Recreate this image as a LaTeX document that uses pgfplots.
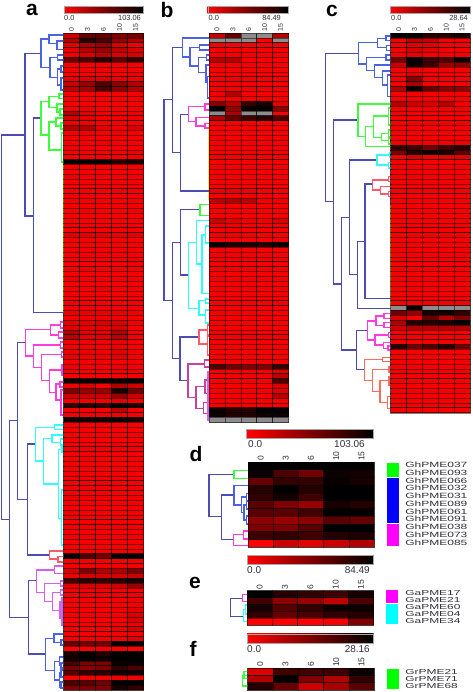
\documentclass[border=0pt]{standalone}
\usepackage{fontspec}
\setmainfont{Liberation Sans}
\usepackage{pgfplots}
\usepackage{pgfplotstable}
\pgfplotsset{compat=1.18}
\definecolor{dnavy}{HTML}{4C4CB4}
\definecolor{dblue}{HTML}{4A62E6}
\definecolor{dgreen}{HTML}{3CFF3C}
\definecolor{dmag}{HTML}{FF3CDC}
\definecolor{dcyan}{HTML}{30FFFF}
\definecolor{dred}{HTML}{FF5A6A}
\definecolor{dvio}{HTML}{DC5CF0}
\definecolor{dplum}{HTML}{C840A0}
\definecolor{dorg}{HTML}{FF6A5A}
\definecolor{txt}{HTML}{303038}
\definecolor{sgreen}{HTML}{00FF00}
\definecolor{sblue}{HTML}{0000FF}
\definecolor{smag}{HTML}{FF00FF}
\definecolor{scyan}{HTML}{00FFFF}
\definecolor{pred}{HTML}{FF0000}
\definecolor{dyel}{HTML}{FFF000}
\newcommand\defcell[3]{\pgfdeclareplotmark{#1}{\pgfpathrectangle{\pgfpoint{-#2pt}{-#3pt}}{\pgfpoint{2*#2pt}{2*#3pt}}\pgfusepathqfillstroke}}
\defcell{cellA}{8}{2.433}
\defcell{cellB}{7.95}{2.433}
\defcell{cellC}{7.93}{2.433}
\defcell{cellD}{12.6}{3.875}
\defcell{cellE}{12.67}{3.45}
\defcell{cellF}{12.67}{3.6}
\newcommand\heat[6]{\pgfplotsinvokeforeach{0,...,4}{%
  \addplot[scatter,only marks,mark=#2,point meta=explicit,
    scatter/use mapped color={draw=black,fill=mapped color},
    mark options={line width=0.6pt,draw opacity=0.5}]
    table[x expr={#3+#4*(##1+0.5)},y expr={#5+#6*(\coordindex+0.5)},meta=c##1]{#1};}}
\def\U#1#2#3#4#5{(#4,#2)(#1,#2)(#1,#3)(#5,#3)(0,nan)}
\newcommand\tree[2]{\edef\tmp{\noexpand\addplot[#1,line width=1.25pt,line join=miter,forget plot,unbounded coords=jump] coordinates {#2};}\tmp}
\newcommand\cbar[4]{% x0 x1 y0 y1
  \path[left color=pred,right color=black,draw=gray!70,line width=0.4pt] (axis cs:#1,#3) rectangle (axis cs:#2,#4);}
\newcommand\collab[4]{% x0 cw ybase size
  \foreach \i/\t in {0/0,1/3,2/6,3/10,4/15}{\pgfmathsetmacro\xx{#1+#2*(\i+0.5)}
    \edef\tmp{\noexpand\node[rotate=90,anchor=west,inner sep=0pt,text=txt,font=\noexpand\fontsize{#4}{#4}\noexpand\selectfont] at (axis cs:\xx,#3) {\t};}\tmp}}
\newcommand\vlines[4]{% x0 cw y0 y1
  \foreach \i in {1,2,3,4}{\pgfmathsetmacro\xx{#1+#2*\i}
    \edef\tmp{\noexpand\draw[black,line width=0.8pt] (axis cs:\xx,#3) -- (axis cs:\xx,#4);}\tmp}}
\def\smallf{\fontsize{7.4}{8}\selectfont}
\def\bigf{\fontsize{10}{11}\selectfont}
\def\letf{\bfseries\fontsize{21}{22}\selectfont}
\pgfplotstableread{
c0 c1 c2 c3 c4
20 60 60 50 55
30 85 70 40 30
10 30 40 15 5
10 30 40 25 15
5 15 25 15 15
60 70 85 65 80
3 3 3 3 3
3 3 5 3 3
3 3 3 3 5
8 10 10 8 5
20 40 70 45 30
25 35 70 45 30
3 3 3 3 3
3 3 3 3 3
3 3 3 3 3
3 5 3 3 3
30 12 5 5 5
15 10 5 5 5
5 5 3 3 3
30 30 10 5 15
3 5 3 5 3
3 3 3 3 3
3 3 5 3 3
5 3 3 3 3
3 3 3 3 5
3 3 3 3 3
100 100 100 85 90
3 3 3 3 3
3 3 3 3 3
5 3 3 3 3
3 3 3 3 3
3 3 5 3 3
3 3 3 5 3
5 5 3 3 3
3 3 3 3 3
3 3 3 3 3
3 5 3 3 5
3 3 3 3 3
3 3 3 3 3
5 3 3 3 3
3 3 3 3 3
10 10 10 8 10
3 3 3 3 3
3 3 3 3 3
5 5 5 5 3
3 3 3 3 3
3 3 3 3 3
3 3 3 3 5
3 5 3 3 3
3 3 3 3 3
5 3 3 3 3
3 3 3 3 3
3 3 5 3 3
3 3 3 3 3
3 3 3 3 3
5 3 3 3 3
3 3 3 3 3
8 8 8 8 5
3 5 5 5 3
10 10 15 15 5
10 10 10 15 3
30 10 10 30 3
25 8 10 25 3
5 5 5 8 3
3 3 3 5 3
8 8 5 12 5
8 5 5 10 3
3 3 3 3 3
5 3 3 5 3
3 3 3 5 3
3 3 3 3 3
100 100 100 100 100
5 15 3 30 20
50 40 40 90 55
20 20 20 40 20
5 5 5 10 5
80 85 80 100 85
3 3 3 25 3
3 3 3 5 3
95 95 95 100 90
3 3 3 3 3
3 3 3 3 3
3 3 3 3 3
5 3 3 3 3
3 3 3 5 3
3 3 3 3 3
3 3 3 3 3
3 5 3 3 3
3 3 3 3 3
3 3 3 3 3
5 3 3 3 3
3 3 3 3 3
3 3 5 3 3
3 3 3 3 3
3 3 3 3 3
8 5 5 3 5
3 3 3 3 3
3 3 3 3 3
5 3 3 3 3
3 3 3 3 3
3 3 3 3 3
3 3 3 5 3
3 3 3 3 3
3 3 3 3 3
3 3 3 3 3
3 3 3 3 3
3 3 3 3 3
100 70 55 100 100
3 3 3 3 3
3 3 5 5 3
15 50 30 30 50
5 15 15 15 20
75 85 80 85 90
10 15 15 20 40
3 3 3 3 3
3 5 5 5 5
3 3 3 3 5
3 3 3 3 3
5 3 3 5 10
3 3 3 3 15
3 3 3 3 15
3 3 3 3 5
3 3 3 5 15
3 3 3 3 5
3 3 3 3 10
60 55 55 100 100
0 3 3 3 0
90 100 85 100 100
92 100 95 100 98
70 50 50 95 95
50 45 50 80 70
65 80 85 95 95
3 5 5 5 3
70 65 55 100 100
50 50 50 90 80
}\tA
\pgfplotstableread{
c0 c1 c2 c3 c4
25 60 105 105 30
105 105 105 0 105
3 3 3 3 3
3 3 3 3 3
3 3 3 3 3
30 30 3 3 3
3 3 3 3 3
3 3 3 3 3
3 3 3 3 3
3 5 3 3 3
3 3 3 3 3
3 3 3 3 3
5 30 3 3 3
3 3 3 3 3
50 30 80 90 10
100 40 95 100 45
105 30 105 105 0
30 60 75 85 70
3 3 3 3 3
3 3 3 3 3
3 3 3 3 3
3 3 3 3 3
3 3 3 3 3
3 3 3 3 3
3 3 3 3 3
5 3 3 3 3
3 3 3 3 3
3 3 3 3 3
3 3 3 3 3
3 3 3 3 3
3 3 3 3 3
3 3 3 3 3
8 8 5 3 3
3 3 3 3 3
25 30 25 5 5
3 3 3 3 3
3 3 3 3 3
3 3 3 3 3
20 10 5 5 15
5 5 3 3 5
3 5 3 3 3
5 5 5 3 3
3 3 3 3 5
100 90 90 85 100
3 3 3 3 3
3 3 3 3 3
3 3 3 3 3
3 3 3 3 3
3 3 3 3 3
3 3 3 3 3
3 3 3 3 3
3 3 3 3 3
3 3 3 3 3
3 3 3 3 3
3 3 3 3 3
3 3 3 3 5
3 3 3 3 3
3 3 3 3 3
3 3 3 3 3
3 3 3 3 3
3 3 3 3 3
3 3 3 3 3
3 3 3 3 3
3 3 3 3 3
3 3 3 3 3
3 3 3 3 3
3 3 3 3 3
3 3 3 3 3
70 55 50 50 80
3 3 3 3 10
3 3 3 3 25
3 3 3 3 70
3 3 3 3 15
3 3 3 3 10
3 3 3 3 30
3 3 3 3 3
3 3 3 3 3
95 85 85 100 100
95 85 85 95 95
105 105 105 105 105
}\tB
\pgfplotstableread{
c0 c1 c2 c3 c4
100 100 85 85 90
3 25 20 3 3
3 10 10 3 3
3 15 10 3 3
3 8 3 3 3
55 100 75 70 95
20 95 75 40 45
3 5 3 3 3
3 10 3 3 3
3 45 3 3 3
3 35 3 3 3
30 100 60 45 40
3 3 3 3 3
3 3 3 3 3
30 20 15 30 5
3 3 3 3 3
3 3 3 3 3
3 3 3 3 3
3 3 3 3 3
3 3 3 3 3
3 3 3 3 3
3 3 3 3 3
5 5 3 3 5
80 75 55 75 85
50 85 95 90 60
5 15 5 10 10
3 3 3 3 3
3 3 3 3 3
3 3 3 3 3
3 3 3 3 3
3 3 3 3 3
3 3 3 3 3
3 3 3 3 3
3 3 3 3 3
3 3 3 3 3
3 3 3 3 3
3 3 3 3 3
3 3 3 3 3
3 3 3 3 3
3 3 3 3 3
3 3 3 3 3
3 3 3 3 3
3 3 3 3 3
3 3 3 3 3
3 3 3 3 3
3 3 3 3 3
3 3 3 3 3
3 3 3 3 3
3 3 3 3 3
3 3 3 3 3
3 3 3 3 3
3 3 3 3 3
3 3 3 3 3
3 3 3 3 3
3 3 3 3 3
3 3 3 3 3
105 100 105 105 105
55 40 90 95 80
15 3 60 30 50
30 85 85 90 100
20 30 30 30 30
3 3 3 3 3
3 3 3 3 3
3 3 3 3 3
85 55 70 85 55
3 3 3 3 3
3 3 3 3 3
3 3 3 3 3
3 3 3 3 3
3 3 3 3 3
3 3 3 3 3
3 3 3 3 3
3 3 3 3 3
3 3 3 3 3
3 3 3 3 3
3 3 3 3 3
3 3 3 3 3
3 3 3 3 3
}\tC
\pgfplotstableread{
c0 c1 c2 c3 c4
100 100 100 100 100
95 70 55 95 92
60 80 80 97 90
85 100 85 100 100
80 92 75 100 100
65 50 40 90 85
65 65 75 98 98
45 40 45 65 60
50 50 65 100 100
75 80 75 85 88
0 20 10 20 30
}\tD
\pgfplotstableread{
c0 c1 c2 c3 c4
100 85 80 75 90
75 45 40 25 70
90 65 80 95 95
80 60 70 80 85
0 0 0 3 50
}\tE
\pgfplotstableread{
c0 c1 c2 c3 c4
15 75 75 75 95
30 100 50 30 80
85 60 20 35 65
}\tF
\begin{document}
\begin{tikzpicture}[x=1pt,y=1pt]
\useasboundingbox (0,0) rectangle (472,692);
\begin{axis}[at={(0,0)},anchor=south west,width=472pt,height=692pt,scale only axis,
  axis lines=none,ticks=none,xmin=0,xmax=472,ymin=0,ymax=692,y dir=reverse,clip=false,
  point meta min=0,point meta max=110,
  colormap={rk}{rgb255(0)=(255,0,0) rgb255(100)=(0,0,0) rgb255(101)=(140,140,140) rgb255(110)=(140,140,140)}]
\heat{\tA}{cellA}{63.5}{16}{33}{4.867}
\heat{\tB}{cellB}{209}{15.9}{33}{4.867}
\heat{\tC}{cellC}{390.7}{15.86}{33}{4.867}
\heat{\tD}{cellD}{248}{25.2}{462}{7.75}
\heat{\tE}{cellE}{247}{25.34}{590.7}{6.9}
\heat{\tF}{cellF}{247.5}{25.34}{668.3}{7.2}
\vlines{63.5}{16}{33}{690}
\vlines{209}{15.9}{33}{422.5}
\vlines{390.7}{15.86}{33}{413}
\vlines{248}{25.2}{462}{547.3}
\vlines{247}{25.34}{590.7}{625.2}
\vlines{247.5}{25.34}{668.3}{690}
% panel frames
\draw[gray,line width=0.6pt] (axis cs:63.5,33) rectangle (axis cs:143.5,690);
\draw[gray,line width=0.6pt] (axis cs:209,33) rectangle (axis cs:288.5,422.5);
\draw[gray,line width=0.6pt] (axis cs:390.7,33) rectangle (axis cs:470,413);
\draw[gray,line width=0.6pt] (axis cs:248,462) rectangle (axis cs:374,547.3);
\draw[gray,line width=0.6pt] (axis cs:247,590.7) rectangle (axis cs:373.7,625.2);
\draw[gray,line width=0.6pt] (axis cs:247.5,668.3) rectangle (axis cs:374.2,690);
% dendrogram a
\addplot[dyel,line width=0.8pt,forget plot] coordinates {(63,165)(63,312)};
\tree{dnavy}{\U{1.7}{135}{519.3}{25}{9.7}\U{25}{53.3}{216}{41}{33.3}\U{33.3}{118}{312.7}{41}{63}\U{9.7}{420.7}{617.3}{17.3}{28.3}\U{17.3}{342.7}{499.3}{25.3}{27.7}\U{27.7}{444}{555}{35.7}{49.7}\U{28.3}{580.7}{654}{36.3}{45.7}}
\tree{dblue}{\U{41}{39}{67.7}{49}{50}\U{49}{35}{43.3}{63}{57}\U{57}{41}{49.3}{63}{63}\U{50}{57.3}{77.3}{57.7}{57.7}\U{57.7}{55}{60}{63}{63}\U{57.7}{69}{85}{61}{61}\U{61}{66}{72}{63}{63}\U{61}{78}{90}{63}{63}\U{45.7}{638.3}{670.7}{54}{54.7}\U{54}{634}{642.7}{63}{61}\U{61}{640}{645}{63}{63}\U{54.7}{661.7}{680}{59.3}{59.3}\U{59.3}{657}{665}{63}{61}\U{61}{663}{668}{63}{63}\U{59.3}{673}{687}{61}{61}\U{61}{670}{677}{63}{63}\U{61}{682}{688}{63}{63}}
\tree{dgreen}{\U{41}{101.7}{135}{49}{49}\U{49}{96.7}{107.3}{59}{57}\U{59}{94}{98.7}{63}{63}\U{57}{104}{112}{63}{60}\U{60}{109}{115}{63}{63}\U{49}{122}{150}{56}{61.7}\U{56}{118}{126}{63}{61}\U{61}{123}{129}{63}{63}\U{61.7}{133}{162}{63}{63}}
\tree{dmag}{\U{25.3}{329.3}{356}{50.7}{33.3}\U{50.7}{325}{335}{60.7}{58.7}\U{60.7}{322}{328}{63}{63}\U{58.7}{332}{338}{63}{63}\U{33.3}{345}{367.3}{60.7}{41.3}\U{60.7}{342}{348}{63}{63}\U{41.3}{354.3}{380.7}{61.7}{49.3}\U{61.7}{352}{357}{63}{63}\U{49.3}{370}{392.3}{62}{56}\U{62}{365}{375}{63}{63}\U{56}{384}{400}{60}{61}\U{60}{382}{387}{63}{63}\U{61}{390}{415}{63}{63}}
\tree{dcyan}{\U{35.7}{427.3}{461}{54.3}{43.3}\U{54.3}{425}{429.3}{63}{63}\U{43.3}{438.3}{484}{52}{58.3}\U{52}{435}{442.3}{63}{60.7}\U{60.7}{439}{445}{63}{63}\U{58.3}{449.3}{518.3}{62}{61.5}\U{62}{447}{452}{63}{63}\U{61.5}{490}{545}{63}{63}}
\tree{dred}{\U{49.7}{551}{559}{63}{58}\U{58}{556.7}{562}{63}{63}}
\tree{dvio}{\U{36.3}{570}{592.3}{54.3}{44.3}\U{54.3}{566}{573.3}{63}{63}\U{44.3}{583.3}{601.7}{60.7}{52.7}\U{60.7}{581}{586}{63}{63}\U{52.7}{592.7}{610.7}{60.7}{60}\U{60.7}{590}{595}{63}{63}\U{60}{602}{618}{62}{62}\U{62}{598}{625}{63}{63}}
% dendrogram b
\addplot[dyel,line width=0.8pt,forget plot] coordinates {(208.5,125)(208.5,200)};
\tree{dnavy}{\U{164}{99.3}{300.7}{172.7}{172.3}\U{172.7}{47.3}{152.7}{182.3}{180.7}\U{180.7}{114.3}{191}{188.3}{209}\U{172.3}{242.3}{358.7}{180.7}{180}\U{180.7}{209.3}{275}{200}{188.7}\U{180}{337}{380.7}{199}{188}}
\tree{dblue}{\U{182.3}{38}{57}{209}{190}\U{190}{47.7}{66}{199.7}{198.3}\U{199.7}{45}{50}{209}{209}\U{198.3}{57.3}{72.7}{206.7}{206}\U{206.7}{55}{60}{209}{209}\U{206}{65}{82}{209}{207.7}\U{207.7}{76.7}{98}{209}{209}}
\tree{dmag}{\U{188.3}{106.7}{121.7}{205}{196}\U{205}{104}{110}{209}{209}\U{196}{117.7}{126}{209}{205}\U{205}{123.7}{128}{209}{209}}
\tree{dgreen}{\U{200}{204.3}{215.7}{209}{209}}
\tree{dcyan}{\U{188.7}{242.3}{308.3}{196.7}{199}\U{196.7}{220.7}{264}{209}{202}\U{202}{235}{293.3}{205.7}{209}\U{205.7}{226}{243}{209}{209}\U{199}{300.7}{315}{205.7}{205.7}\U{205.7}{299}{303}{209}{209}\U{205.7}{310}{323}{209}{209}}
\tree{dred}{\U{199}{330}{344}{207.7}{207.7}\U{207.7}{325}{335}{209}{209}\U{207.7}{336}{355}{209}{209}}
\tree{dplum}{\U{188}{364}{397.3}{204.3}{196}\U{204.3}{360}{367}{209}{209}\U{196}{386.7}{408.3}{205}{203.3}\U{205}{380}{393.3}{209}{208}\U{203.3}{402.7}{413.3}{209}{208}}
\tree{dvio}{\U{208}{372}{398}{209}{209}\U{208}{398}{420}{209}{209}}
% dendrogram c
\addplot[dyel,line width=0.8pt,forget plot] coordinates {(390,205)(390,310)};
\tree{dnavy}{\U{325.3}{53.3}{201.7}{358.7}{333.3}\U{333.3}{120}{284}{358}{341.3}\U{341.3}{217.3}{350}{349.3}{356.3}\U{349.3}{160}{274.3}{377}{357.3}\U{357.3}{241.3}{308.3}{365}{390.7}\U{365}{184}{298.3}{372.7}{390.7}\U{356.3}{330.3}{369.3}{367.3}{364.3}}
\tree{dblue}{\U{358.7}{42.7}{64}{377.7}{366.7}\U{377.7}{38.3}{47.3}{386}{386.7}\U{386}{36}{40.7}{390.7}{390.7}\U{386.7}{45.3}{50.7}{390.7}{390.7}\U{366.7}{57.3}{70.7}{386}{374.3}\U{386}{55}{60}{390.7}{390.7}\U{374.3}{65}{77.3}{390.7}{382.7}\U{382.7}{71}{85}{390.7}{387.3}\U{387.3}{75}{96.7}{390.7}{390.7}}
\tree{dgreen}{\U{358}{104}{136.7}{390.7}{365.3}\U{365.3}{126.7}{146.7}{373.3}{390.7}\U{373.3}{116}{137.3}{388.3}{381.7}\U{388.3}{108}{125}{390.7}{390.7}\U{381.7}{133.3}{140.7}{388.3}{388.3}\U{388.3}{130}{137}{390.7}{390.7}\U{388.3}{138}{144}{390.7}{390.7}}
\tree{dcyan}{\U{377}{155}{165}{389.3}{388.3}\U{389.3}{153}{157}{390.7}{390.7}\U{388.3}{162.7}{168}{390.7}{390.7}}
\tree{dred}{\U{372.7}{180}{190}{388.3}{380.7}\U{388.3}{176.7}{181.7}{390.7}{390.7}\U{380.7}{186.7}{194}{390.7}{388.3}\U{388.3}{191.7}{196.7}{390.7}{390.7}}
\tree{dmag}{\U{367.3}{321}{340}{376}{375}\U{376}{316}{325.3}{384}{384}\U{384}{313.3}{318.3}{390.7}{390.7}\U{384}{322.7}{327.3}{390.7}{390.7}\U{375}{335}{345}{388.3}{383.3}\U{388.3}{332.7}{337.3}{390.7}{390.7}\U{383.3}{342.7}{348.3}{390.7}{388}\U{388}{346}{350}{390.7}{390.7}}
\tree{dorg}{\U{364.3}{359.3}{380.3}{382.7}{372.3}\U{382.7}{357.3}{361.7}{390.7}{390.7}\U{372.3}{369.3}{391.7}{389}{380}\U{389}{367}{372}{390.7}{390.7}\U{380}{380.3}{402.7}{389}{387.3}\U{389}{377}{385}{390.7}{390.7}\U{387.3}{396.7}{408.3}{390.7}{390.7}}
% dendrogram d
\tree{dnavy}{\U{209}{474.3}{516.3}{234}{221.3}\U{221.3}{495}{539.3}{234}{233.3}}
\tree{dgreen}{\U{234}{470.7}{478.3}{248}{248}}
\tree{dblue}{\U{234}{485.7}{505}{248}{241.7}\U{241.7}{497}{512.3}{246.7}{244}\U{246.7}{493.3}{501}{248}{248}\U{244}{505}{520}{246.7}{246.7}\U{246.7}{501}{509}{248}{248}\U{246.7}{516}{524}{248}{248}}
\tree{dmag}{\U{233.3}{534.3}{545.7}{243.3}{248}\U{243.3}{531}{539}{248}{248}}
% dendrogram e, f
\tree{dnavy}{\U{230.7}{598.7}{616.7}{242.7}{243.3}}
\tree{dmag}{\U{242.7}{594.7}{601.7}{247}{247}}
\tree{dcyan}{\U{243.3}{609.3}{621.7}{245.7}{247}\U{245.7}{605}{614}{247}{247}}
\tree{dgreen}{\U{242.3}{675.3}{686}{247.5}{247.5}\U{244}{671.7}{678.7}{247.5}{247.5}}
% colour bars
\cbar{64}{143}{6.5}{13.3}
\cbar{207.7}{288}{6.5}{13.3}
\cbar{390}{470}{6.5}{13.3}
\cbar{246.5}{373.5}{429}{438}
\cbar{247}{373.5}{555}{564}
\cbar{247}{373.5}{633.7}{643}
% bar legends
\node[anchor=west,inner sep=0pt,font=\smallf,text=txt] at (axis cs:64,18) {0.0};
\node[anchor=east,inner sep=0pt,font=\smallf,text=txt] at (axis cs:141,18) {103.06};
\node[anchor=west,inner sep=0pt,font=\smallf,text=txt] at (axis cs:208.5,18) {0.0};
\node[anchor=east,inner sep=0pt,font=\smallf,text=txt] at (axis cs:281,18) {84.49};
\node[anchor=west,inner sep=0pt,font=\smallf,text=txt] at (axis cs:391,18) {0.0};
\node[anchor=east,inner sep=0pt,font=\smallf,text=txt] at (axis cs:468,18) {28.64};
\node[anchor=west,inner sep=0pt,font=\bigf,text=txt] at (axis cs:248,444) {0.0};
\node[anchor=east,inner sep=0pt,font=\bigf,text=txt] at (axis cs:365,444) {103.06};
\node[anchor=west,inner sep=0pt,font=\bigf,text=txt] at (axis cs:247,570.5) {0.0};
\node[anchor=east,inner sep=0pt,font=\bigf,text=txt] at (axis cs:370,570.5) {84.49};
\node[anchor=west,inner sep=0pt,font=\bigf,text=txt] at (axis cs:247,648.7) {0.0};
\node[anchor=east,inner sep=0pt,font=\bigf,text=txt] at (axis cs:370,648.7) {28.16};
% column labels
\collab{63.5}{16}{32}{7}
\collab{209}{15.9}{32}{7}
\collab{390.7}{15.86}{32}{7}
\collab{248}{25.2}{461}{8.5}
\collab{247}{25.34}{589.5}{8.5}
\collab{247.5}{25.34}{667}{8.5}
% panel letters
\node[inner sep=0pt,font=\letf] at (axis cs:32,10) {a};
\node[inner sep=0pt,font=\letf] at (axis cs:167,9.5) {b};
\node[inner sep=0pt,font=\letf] at (axis cs:332,11) {c};
\node[inner sep=0pt,font=\letf] at (axis cs:196,454) {d};
\node[inner sep=0pt,font=\letf] at (axis cs:195,583) {e};
\node[inner sep=0pt,font=\letf] at (axis cs:193,649) {f};
% group strips
\fill[sgreen] (axis cs:386.7,462.7) rectangle (axis cs:399,476.7);
\fill[sblue] (axis cs:386.7,478) rectangle (axis cs:399,523);
\fill[smag] (axis cs:386.7,524) rectangle (axis cs:399,545.7);
\fill[smag] (axis cs:386.3,590) rectangle (axis cs:398,602.7);
\fill[scyan] (axis cs:386.3,604) rectangle (axis cs:398,624);
\fill[sgreen] (axis cs:387,669.3) rectangle (axis cs:399,689);
% gene names
\foreach \t [count=\i from 0] in {GhPME037,GhPME093,GhPME066,GhPME032,GhPME031,GhPME089,GhPME061,GhPME091,GhPME038,GhPME073,GhPME085}{
  \pgfmathsetmacro\yy{465+7.73*\i}
  \edef\tmp{\noexpand\node[anchor=west,inner sep=0pt,text=txt,font=\noexpand\fontsize{7.6}{7.6}\noexpand\selectfont,xscale=1.58] at (axis cs:405,\yy) {\t};}\tmp}
\foreach \t [count=\i from 0] in {GaPME17,GaPME21,GaPME60,GaPME04,GaPME34}{
  \pgfmathsetmacro\yy{593.3+6.83*\i}
  \edef\tmp{\noexpand\node[anchor=west,inner sep=0pt,text=txt,font=\noexpand\fontsize{7.2}{7.2}\noexpand\selectfont,xscale=1.66] at (axis cs:405,\yy) {\t};}\tmp}
\foreach \t [count=\i from 0] in {GrPME21,GrPME71,GrPME68}{
  \pgfmathsetmacro\yy{671.7+7*\i}
  \edef\tmp{\noexpand\node[anchor=west,inner sep=0pt,text=txt,font=\noexpand\fontsize{7.2}{7.2}\noexpand\selectfont,xscale=1.66] at (axis cs:405,\yy) {\t};}\tmp}
\end{axis}
\end{tikzpicture}
\end{document}
